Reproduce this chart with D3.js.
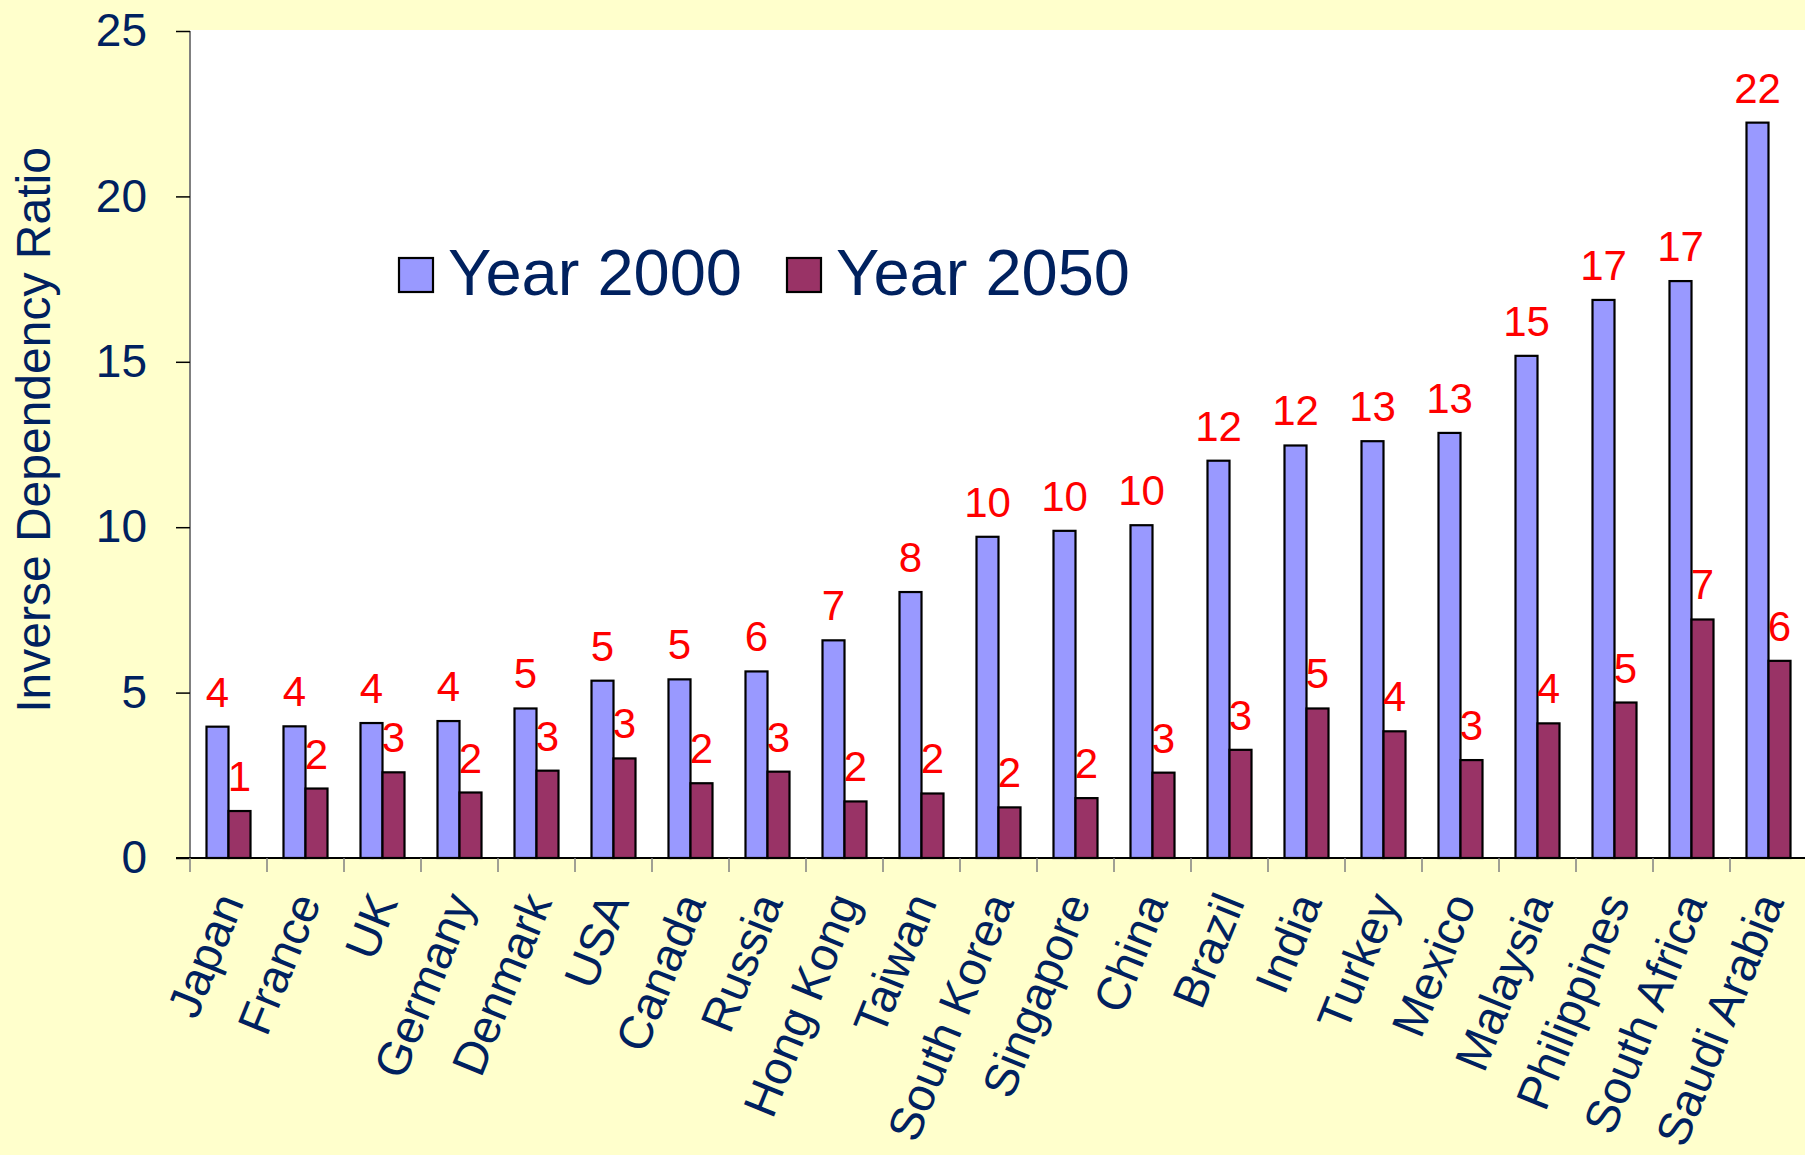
<!DOCTYPE html>
<html>
<head>
<meta charset="utf-8">
<script src="https://cdn.jsdelivr.net/npm/d3@7"></script>
<style>
  html, body { margin: 0; padding: 0; background: #FFFFCC; }
  svg { display: block; }
  text { font-family: "Liberation Sans", Arial, sans-serif; }
</style>
</head>
<body>
<svg id="chart" width="1805" height="1155"></svg>
<script>
// Inverse dependency ratio by country, 2000 vs 2050
const countries = ["Japan", "France", "UK", "Germany", "Denmark", "USA", "Canada", "Russia",
  "Hong Kong", "Taiwan", "South Korea", "Singapore", "China", "Brazil", "India", "Turkey",
  "Mexico", "Malaysia", "Philippines", "South Africa", "Saudi Arabia"];
const year2000 = [3.97, 3.98, 4.08, 4.14, 4.52, 5.36, 5.40, 5.64, 6.58, 8.04, 9.71, 9.89,
  10.06, 12.01, 12.47, 12.60, 12.85, 15.18, 16.87, 17.44, 22.23];
const year2050 = [1.42, 2.10, 2.59, 1.98, 2.64, 3.01, 2.26, 2.61, 1.71, 1.95, 1.53, 1.81,
  2.58, 3.27, 4.52, 3.83, 2.96, 4.07, 4.70, 7.21, 5.96];
const seriesNames = ["Year 2000", "Year 2050"];
const seriesColors = ["#9999FF", "#993366"];
const yTicks = [0, 5, 10, 15, 20, 25];

const textColor = "#00215F";
const svg = d3.select("#chart");

const plotLeft = 190, plotRight = 1807, plotTop = 31, plotBottom = 858;

const x = d3.scaleBand().domain(countries).range([plotLeft, plotRight]).padding(0);
const bw = x.bandwidth();
// two bars per cluster, gap between clusters = 1.5 bar widths
const barW = bw / 3.5;
const xs = d3.scaleBand().domain(seriesNames).range([barW * 0.75, barW * 0.75 + 2 * barW]).padding(0);
const y = d3.scaleLinear().domain([0, 25]).range([plotBottom, plotTop]);

// plot area
svg.append("rect")
  .attr("x", plotLeft).attr("y", plotTop - 1)
  .attr("width", 1805 - plotLeft).attr("height", plotBottom - plotTop + 1)
  .attr("fill", "#FFFFFF");

const rows = countries.map((c, i) => ({ c, vals: [year2000[i], year2050[i]] }));

const groups = svg.append("g").selectAll("g")
  .data(rows).join("g")
  .attr("transform", d => `translate(${x(d.c)},0)`);

groups.selectAll("rect")
  .data(d => d.vals.map((v, k) => ({ v, k })))
  .join("rect")
  .attr("x", d => xs(seriesNames[d.k]))
  .attr("y", d => y(d.v))
  .attr("width", xs.bandwidth())
  .attr("height", d => y(0) - y(d.v))
  .attr("fill", d => seriesColors[d.k])
  .attr("stroke", "#000")
  .attr("stroke-width", 2.2);

groups.selectAll("text.val")
  .data(d => d.vals.map((v, k) => ({ v, k })))
  .join("text")
  .attr("class", "val")
  .attr("x", d => xs(seriesNames[d.k]) + xs.bandwidth() / 2)
  .attr("y", d => y(d.v) - 20)
  .attr("text-anchor", "middle")
  .attr("font-size", 42)
  .attr("fill", "#FF0000")
  .text(d => Math.round(d.v));

// y axis
const yAxis = svg.append("g")
  .attr("transform", `translate(${plotLeft},0)`)
  .call(d3.axisLeft(y).tickValues(yTicks).tickSize(14).tickPadding(29).tickFormat(d3.format("d")));
yAxis.select(".domain").attr("stroke", "#808080").attr("stroke-width", 2).attr("d", `M0,${plotTop}V${plotBottom}`);
yAxis.selectAll(".tick line").attr("stroke", "#000").attr("stroke-width", 1.5);
yAxis.selectAll(".tick text")
  .attr("font-size", 46).attr("fill", textColor)
  .attr("font-family", "Liberation Sans, Arial, sans-serif");

// x axis
const xAxis = svg.append("g")
  .attr("transform", `translate(0,${plotBottom})`)
  .call(d3.axisBottom(x).tickSize(0).tickFormat(d => d));
xAxis.select(".domain").attr("stroke", "#000").attr("stroke-width", 2).attr("d", `M${plotLeft - 14},0H1805`);
xAxis.selectAll(".tick text")
  .attr("font-size", 47).attr("fill", textColor)
  .attr("font-family", "Liberation Sans, Arial, sans-serif")
  .attr("text-anchor", "end")
  .attr("y", 0).attr("dy", 0)
  .attr("transform", "translate(16,44) rotate(-68)");
// category separators below the axis
svg.append("g").selectAll("line")
  .data(countries)
  .join("line")
  .attr("x1", d => x(d)).attr("x2", d => x(d))
  .attr("y1", plotBottom).attr("y2", plotBottom + 14)
  .attr("stroke", "#808080").attr("stroke-width", 1.5);

// axis title
svg.append("text")
  .attr("transform", `translate(50,430) rotate(-90)`)
  .attr("text-anchor", "middle")
  .attr("font-size", 48)
  .attr("fill", textColor)
  .text("Inverse Dependency Ratio");

// legend
const legendX = [399, 787];
const legend = svg.append("g").selectAll("g")
  .data(seriesNames).join("g")
  .attr("transform", (d, i) => `translate(${legendX[i]},258)`);
legend.append("rect")
  .attr("width", 34).attr("height", 34)
  .attr("fill", (d, i) => seriesColors[i])
  .attr("stroke", "#000").attr("stroke-width", 2.2);
legend.append("text")
  .attr("x", 49).attr("y", 37)
  .attr("font-size", 65)
  .attr("fill", textColor)
  .text(d => d);
</script>
</body>
</html>
